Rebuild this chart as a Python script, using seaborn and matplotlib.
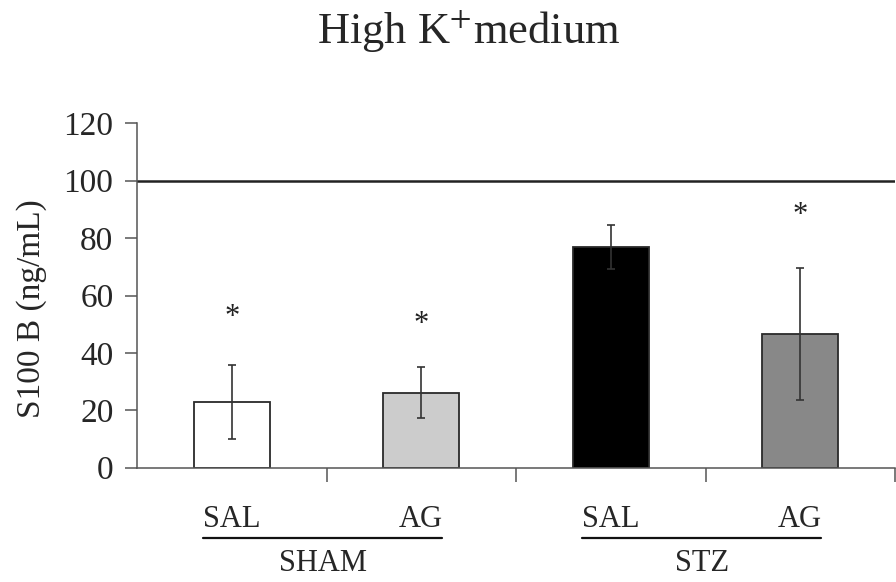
import matplotlib
matplotlib.use("Agg")
import matplotlib.pyplot as plt
import matplotlib.transforms as mtransforms
import seaborn as sns
import pandas as pd

# Data: S100B release in high K+ medium (mean ± SEM)
groups = ["SHAM", "SHAM", "STZ", "STZ"]
treatments = ["SAL", "AG", "SAL", "AG"]
means = [22.8, 26.2, 76.8, 46.5]
sems = [12.9, 8.9, 7.6, 23.0]
star_heights = [54.4, 52.2, None, 89.9]
bar_colors = ["#ffffff", "#cccccc", "#000000", "#888888"]
y_ticks = [0, 20, 40, 60, 80, 100, 120]
reference_level = 100

df = pd.DataFrame({
    "condition": [f"{g} {t}" for g, t in zip(groups, treatments)],
    "group": groups,
    "treatment": treatments,
    "mean": means,
})

sns.set_style("ticks")
plt.rcParams["font.family"] = ["Liberation Serif", "DejaVu Serif"]
plt.rcParams["mathtext.fontset"] = "stix"

fig = plt.figure(figsize=(8.96, 5.82), dpi=100)
ax = fig.add_axes([137 / 896, 1 - 467.7 / 582, 758 / 896, 344.4 / 582])

sns.barplot(
    data=df, x="condition", y="mean", hue="condition",
    palette=bar_colors, width=0.4, edgecolor="#2a2a2a", linewidth=1.3,
    legend=False, errorbar=None, ax=ax, zorder=2,
)

xs = list(range(len(means)))
ax.errorbar(xs, means, yerr=sems, fmt="none", ecolor="#333333",
            elinewidth=1.2, capsize=2.8, capthick=1.2, zorder=3)

# significance marks
for x, h in zip(xs, star_heights):
    if h is not None:
        ax.annotate("*", (x, h), xytext=(0, -4.5), textcoords="offset points",
                    ha="center", va="center", fontsize=22, color="#222222")

# reference line at 100 %
ax.axhline(reference_level, color="#222222", lw=1.8, zorder=1)

ax.set_xlim(-0.5, 3.5)
ax.set_ylim(0, 120)
ax.set_yticks(y_ticks)
ax.tick_params(axis="y", labelsize=24, length=9, width=1.1, color="#555555", pad=8)

# major ticks at category boundaries, treatment labels at bar centres
ax.set_xticks([0.5, 1.5, 2.5, 3.5])
ax.set_xticklabels([])
ax.tick_params(axis="x", which="major", length=10, width=1.1, color="#555555")
ax.set_xticks(xs, minor=True)
ax.set_xticklabels(treatments, minor=True)
ax.tick_params(axis="x", which="minor", length=0, labelsize=22, pad=27)
ax.set_xlabel("")

for side in ["top", "right"]:
    ax.spines[side].set_visible(False)
for side in ["left", "bottom"]:
    ax.spines[side].set_color("#555555")
    ax.spines[side].set_linewidth(1.1)

ax.set_ylabel("S100 B (ng/mL)", fontsize=24)
ax.yaxis.set_label_coords(-0.119, 0.462)

# group brackets below the treatment labels
trans = mtransforms.blended_transform_factory(ax.transData, ax.transAxes)
for name, centre in [("SHAM", 0.48), ("STZ", 2.48)]:
    ax.plot([centre - 0.63, centre + 0.63], [-0.205, -0.205], color="#111111",
            lw=1.6, transform=trans, clip_on=False)
    ax.text(centre, -0.277, name, transform=trans, ha="center", va="center",
            fontsize=22)

fig.text(469 / 896, 1 - 32 / 582, "High K$^{+}$medium", ha="center", va="center",
         fontsize=32)

fig.savefig("out.png", dpi=100)
